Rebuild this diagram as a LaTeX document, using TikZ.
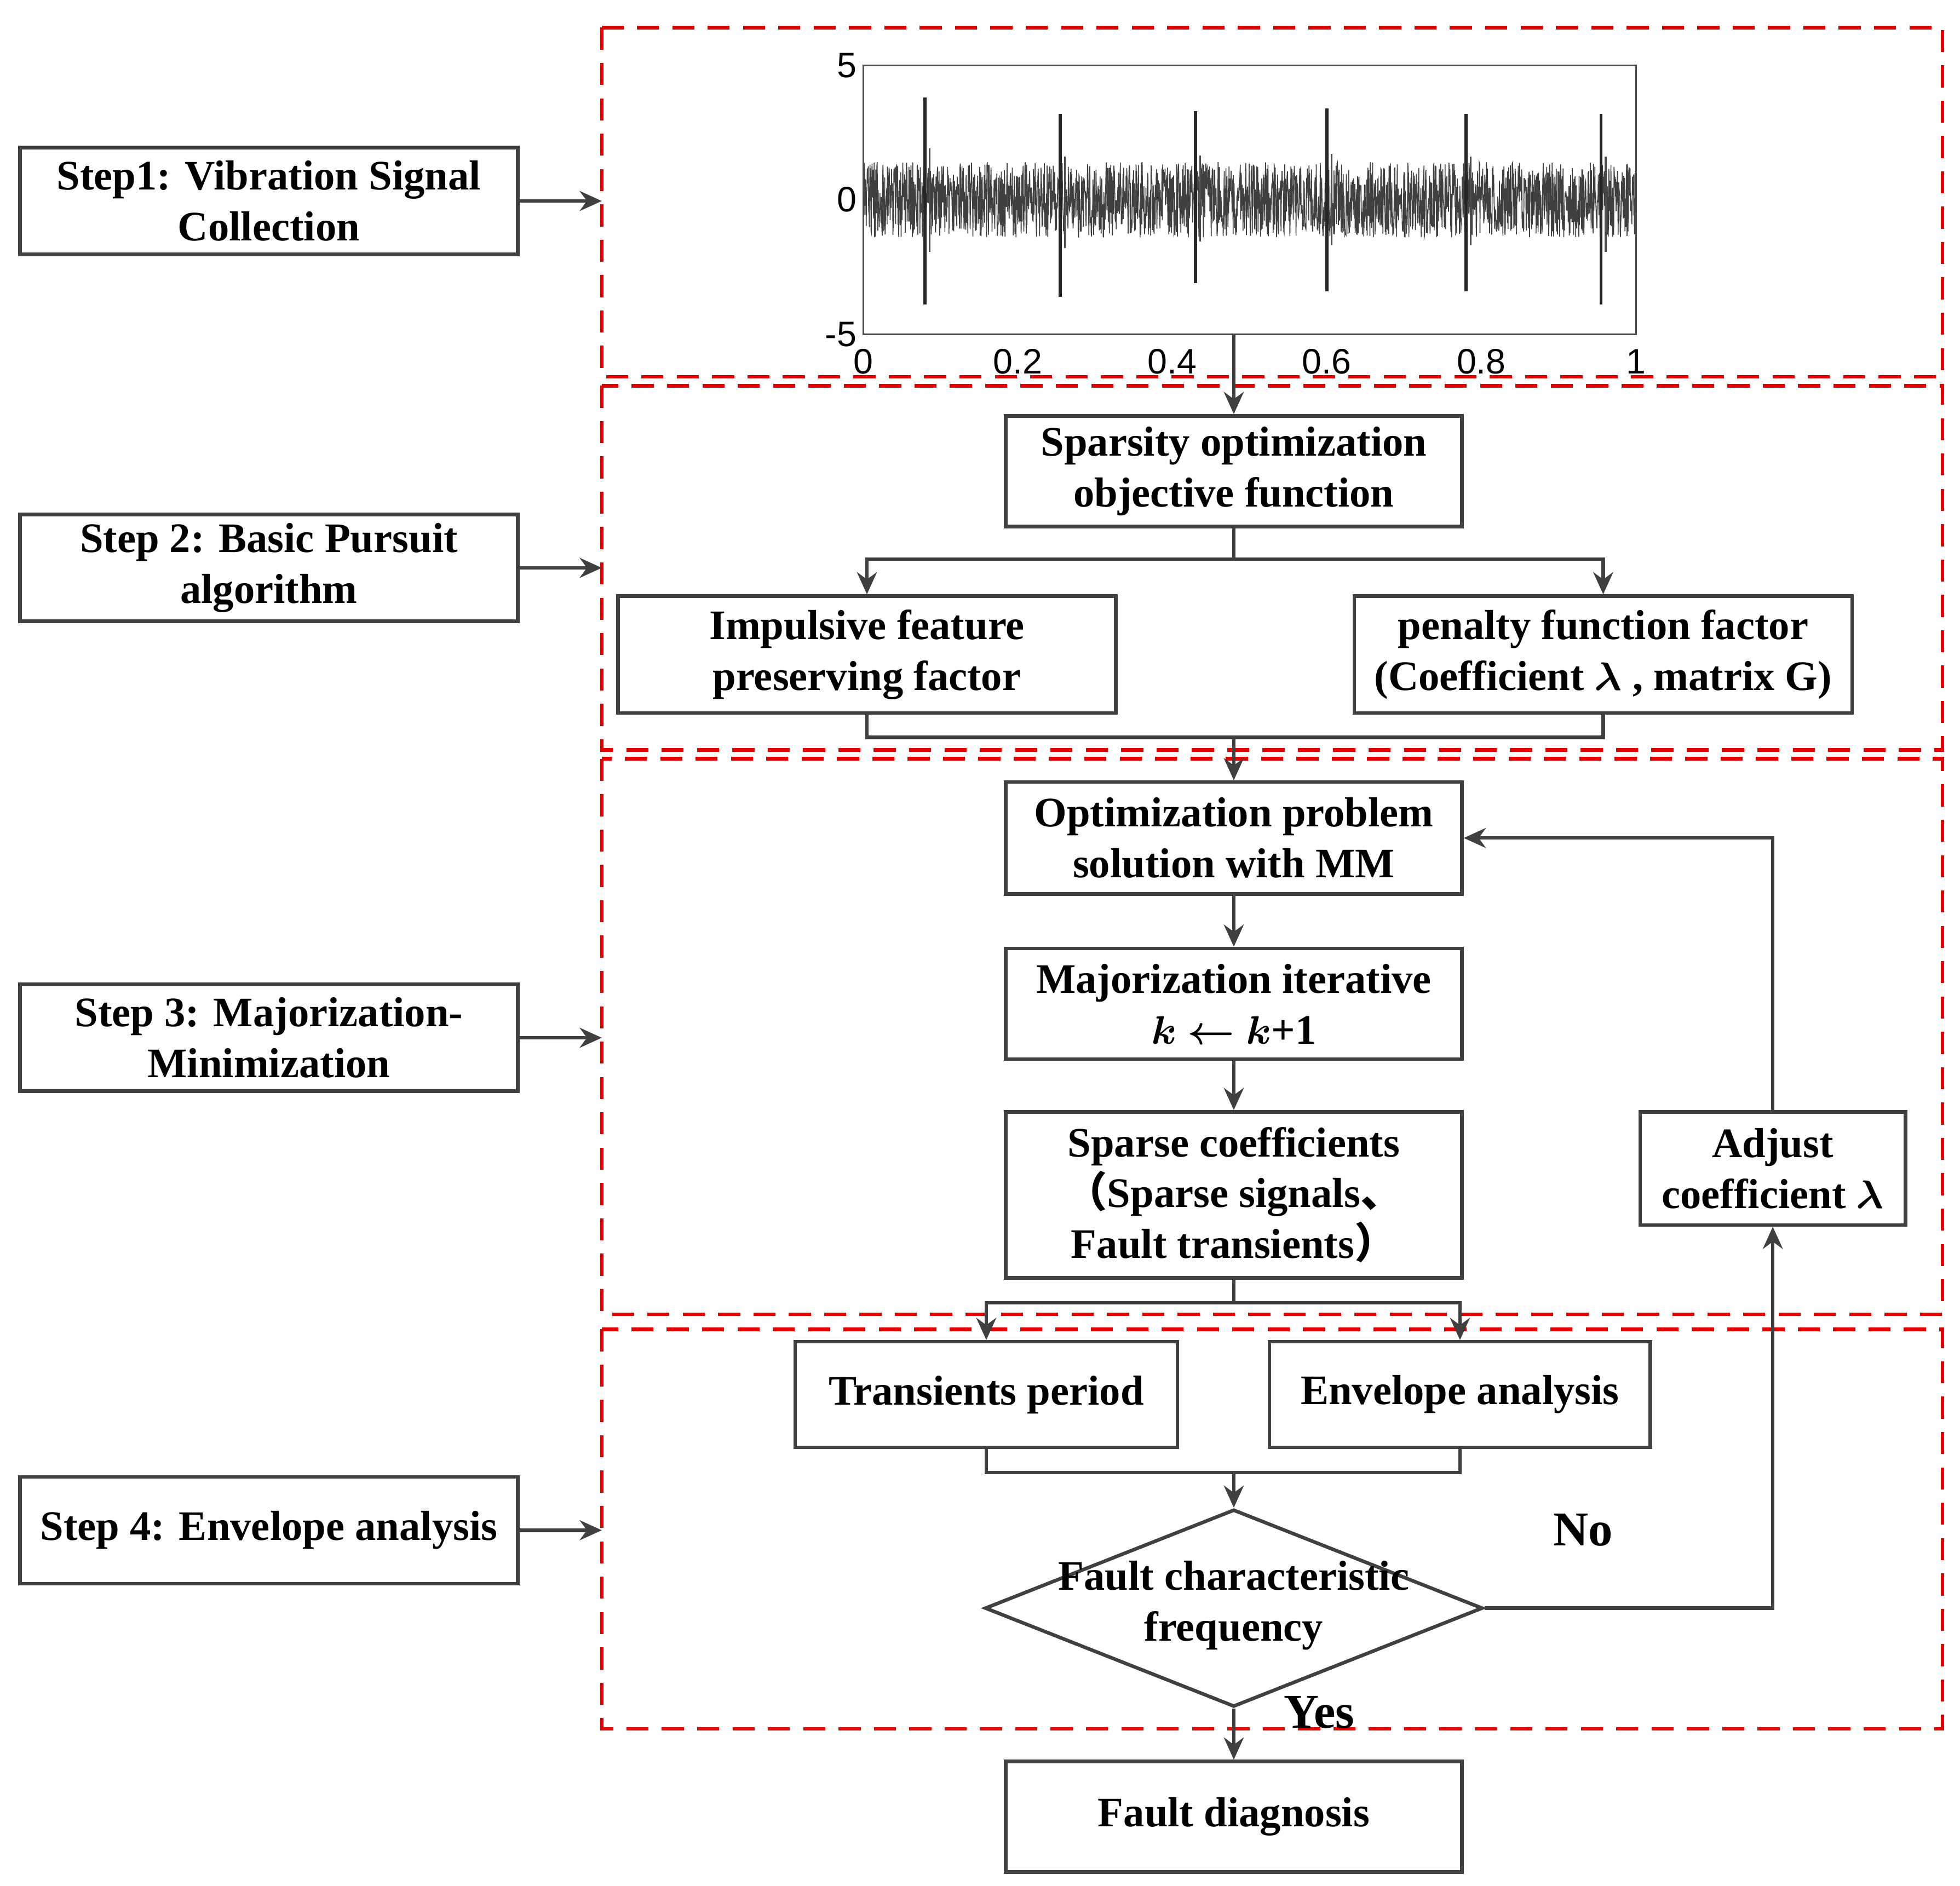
\documentclass[tikz,border=0pt]{standalone}
\usepackage{amsmath}
\usepackage{fontspec}
\setmainfont{Liberation Serif}
\newfontfamily\cjk{Noto Sans CJK SC}
\newfontfamily\axfont{Liberation Sans}
\usetikzlibrary{shapes.geometric,arrows.meta}
\begin{document}
\begin{tikzpicture}[x=0.01cm,y=-0.01cm,
  box/.style={draw=black!75,line width=0.8pt,fill=white,align=center,font=\bfseries\fontsize{9.5}{11.5}\selectfont,inner sep=0pt},
  red/.style={draw=red!90!black,dashed,line width=0.8pt,dash pattern=on 5pt off 3pt},
  arr/.style={draw=black!75,line width=0.8pt,-{Stealth[length=5pt,width=4.5pt]}},
  ln/.style={draw=black!75,line width=0.8pt},
  lab/.style={font=\bfseries\fontsize{9.5}{11.5}\selectfont},
  tick/.style={font=\axfont\fontsize{8}{9}\selectfont}]
\useasboundingbox (0,0) rectangle (1560,1501);
% red dashed boxes
\draw[red] (479,22) rectangle (1546,300);
\draw[red] (479,307) rectangle (1546,597);
\draw[red] (479,604) rectangle (1546,1046);
\draw[red] (479,1058) rectangle (1546,1376);
% left steps
\node[box,minimum width=3.96cm,minimum height=0.85cm] (s1) at (214,160) {Step1: Vibration Signal\\Collection};
\node[box,minimum width=3.96cm,minimum height=0.85cm] (s2) at (214,452) {Step 2: Basic Pursuit\\algorithm};
\node[box,minimum width=3.96cm,minimum height=0.85cm] (s3) at (214,826) {Step 3: Majorization-\\Minimization};
\node[box,minimum width=3.96cm,minimum height=0.85cm] (s4) at (214,1218) {Step 4: Envelope analysis};
\coordinate (r1) at (479,160); \coordinate (r2) at (479,452);
\coordinate (r3) at (479,826); \coordinate (r4) at (479,1218);
\draw[arr] (s1) -- (r1); \draw[arr] (s2) -- (r2);
\draw[arr] (s3) -- (r3); \draw[arr] (s4) -- (r4);
% signal plot
\draw[black!70,line width=0.4pt] (687,52) rectangle (1302,266);
\begin{scope}
\clip (687,52) rectangle (1302,266);
\pgfmathsetseed{7}
\draw[black!75,line width=0.2pt] plot[domain=0:1,samples=2200] ({687+615*\x},{159-21.4*1.4*rand});
\foreach \p/\a/\b in {0.08/3.8/3.9,0.255/3.2/3.6,0.43/3.3/3.1,0.6/3.4/3.4,0.78/3.2/3.4,0.955/3.2/3.9}{
  \draw[black!85,line width=0.7pt] ({687+615*\p},{159-21.4*\a}) -- ({687+615*\p},{159+21.4*\b});
  \draw[black!70,line width=0.4pt] ({687+615*(\p+0.006)},{159-21.4*\a*0.5}) -- ({687+615*(\p+0.006)},{159+21.4*\b*0.5});}
\end{scope}
\foreach \v/\y in {5/52,0/159,-5/266} \node[tick,anchor=east,inner sep=1pt] at (686,\y) {\v};
\foreach \t/\l in {0/0,0.2/0.2,0.4/0.4,0.6/0.6,0.8/0.8,1/1} \node[tick] at ({687+615*\t},288) {\l};
\coordinate (pb) at (982,266);
% step 2
\node[box,minimum width=3.63cm,minimum height=0.88cm] (sp) at (982,375) {Sparsity optimization\\objective function};
\node[box,minimum width=3.96cm,minimum height=0.93cm] (im) at (690,521) {Impulsive feature\\preserving factor};
\node[box,minimum width=3.96cm,minimum height=0.93cm] (pe) at (1276,521) {penalty function factor\\(Coefficient $\boldsymbol{\lambda}$ , matrix G)};
\draw[arr] (pb) -- (sp.north);
\draw[ln] (sp.south) -- (982,445);
\draw[arr] (982,445) -| (im.north);
\draw[arr] (982,445) -| (pe.north);
% step 3
\node[box,minimum width=3.63cm,minimum height=0.89cm] (op) at (982,667) {Optimization problem\\solution with MM};
\node[box,minimum width=3.63cm,minimum height=0.88cm] (mj) at (982,799) {Majorization iterative\\$\boldsymbol{k}\boldsymbol{\leftarrow}\boldsymbol{k}$+1};
\node[box,minimum width=3.63cm,minimum height=1.32cm] (sc) at (982,951) {Sparse coefficients\\{\cjk（}Sparse signals{\cjk 、}\\Fault transients{\cjk ）}};
\node[box,minimum width=2.11cm,minimum height=0.9cm] (ad) at (1411,930) {Adjust\\coefficient $\boldsymbol{\lambda}$};
\draw[ln] (im.south) |- (982,587);
\draw[ln] (pe.south) |- (982,587);
\draw[arr] (982,587) -- (op.north);
\draw[arr] (op) -- (mj);
\draw[arr] (mj) -- (sc);
% step 4
\node[box,minimum width=3.04cm,minimum height=0.84cm] (tr) at (785,1110) {Transients period};
\node[box,minimum width=3.03cm,minimum height=0.84cm] (en) at (1162,1110) {Envelope analysis};
\node[draw=black!75,line width=0.8pt,diamond,aspect=2.5,minimum width=3.96cm,minimum height=1.57cm,inner sep=0pt] (dm) at (982,1280) {};
\node[lab,align=center] at (982,1278) {Fault characteristic\\frequency};
\node[box,minimum width=3.63cm,minimum height=0.88cm] (fd) at (982,1446) {Fault diagnosis};
\draw[ln] (sc.south) -- (982,1037);
\draw[arr] (982,1037) -| (tr.north);
\draw[arr] (982,1037) -| (en.north);
\draw[ln] (tr.south) |- (982,1172);
\draw[ln] (en.south) |- (982,1172);
\draw[arr] (982,1172) -- (dm.north);
\draw[arr] (dm.east) -| (ad.south);
\draw[arr] (ad.north) |- (op.east);
\draw[arr] (dm.south) -- (fd.north);
\node[lab,font=\bfseries\fontsize{11}{13}\selectfont] at (1260,1218) {No};
\node[lab,font=\bfseries\fontsize{11}{13}\selectfont] at (1050,1363) {Yes};
\end{tikzpicture}
\end{document}
